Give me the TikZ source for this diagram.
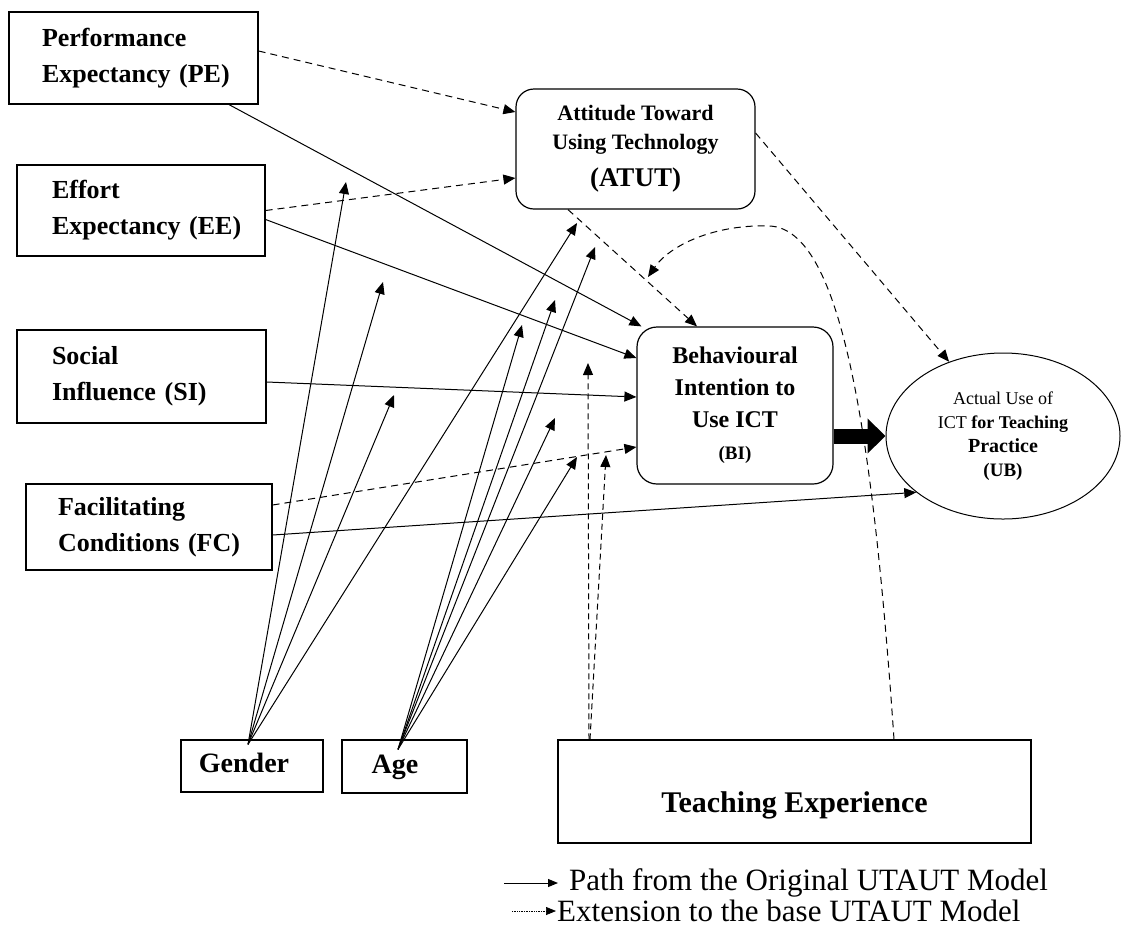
\documentclass[tikz,border=0pt]{standalone}
\usepackage{fontspec}
\setmainfont{Liberation Serif}
\usetikzlibrary{arrows.meta,shapes.geometric,calc}

\begin{document}
\begin{tikzpicture}[x=1pt,y=-1pt,
  cbox/.style={draw, line width=1.2pt, inner ysep=0pt, align=left,
               font=\fontsize{26}{36}\selectfont\bfseries},
  rbox/.style={draw, line width=1.2pt, rounded corners=18pt, inner sep=0pt, align=center},
  modbox/.style={draw, line width=1.2pt, inner sep=0pt, text height=19pt, text depth=6pt,
                 font=\fontsize{28}{34}\selectfont\bfseries},
  orig/.style={line width=1pt, -{Triangle[length=12pt,width=10pt]}},
  extn/.style={line width=1pt, dash pattern=on 7pt off 5pt,
               -{Triangle[length=12pt,width=10pt]}},
  extd/.style={line width=1pt, dash pattern=on 6pt off 4pt,
               -{Triangle[length=12pt,width=10pt]}},
  legend/.style={anchor=west, inner sep=0pt, font=\fontsize{31}{34}\selectfont}
]
\useasboundingbox (0,0) rectangle (1121,930);

% ---- constructs ----
\node[cbox, minimum width=249pt, minimum height=92pt, inner xsep=33pt, text width=183pt]
  (pe) at (133.5,58) {Performance\\Expectancy~(PE)};
\node[cbox, minimum width=248pt, minimum height=91pt, inner xsep=35pt, text width=178pt]
  (ee) at (141,210.5) {Effort\\Expectancy~(EE)};
\node[cbox, minimum width=249pt, minimum height=93pt, inner xsep=35pt, text width=179pt]
  (si) at (141.5,376.5) {Social\\Influence~(SI)};
\node[cbox, minimum width=246pt, minimum height=86pt, inner xsep=32pt, text width=182pt]
  (fc) at (149,527) {Facilitating\\Conditions~(FC)};

\node[rbox, minimum width=239pt, minimum height=120pt,
      font=\fontsize{22}{29}\selectfont\bfseries]
  (atut) at (635.5,149) {Attitude Toward\\Using Technology\\[8pt]{\fontsize{27}{30}\selectfont (ATUT)}};

\node[rbox, rounded corners=20pt, minimum width=196pt, minimum height=157pt,
      font=\fontsize{24}{32}\selectfont\bfseries]
  (bi) at (735,405.5) {Behavioural\\Intention to\\Use ICT\\{\fontsize{19}{20}\selectfont (BI)}};

\node[draw, ellipse, line width=1pt, inner sep=0pt, minimum width=234pt, minimum height=166pt,
      align=center, font=\fontsize{18}{24}\selectfont]
  (ub) at (1003,436) {Actual Use of\\ICT \textbf{for Teaching}\\{\bfseries\fontsize{20}{24}\selectfont Practice}\\{\bfseries\fontsize{19}{25}\selectfont (UB)}};

% ---- moderators ----
\node[modbox, minimum width=142pt, minimum height=52pt] (gender) at (252,766) {Gender\hspace*{16pt}};
\node[modbox, minimum width=125pt, minimum height=53pt] (age) at (404.5,766.5) {Age\hspace*{19pt}};
\node[draw, line width=1.2pt, minimum width=473pt, minimum height=103pt, inner sep=0pt,
      label={[font=\fontsize{30}{34}\selectfont\bfseries, yshift=-14pt]center:Teaching Experience}]
  (te) at (794.5,791.5) {};

% ---- free ends of the moderating arrows ----
\coordinate (g1) at (346,182);
\coordinate (g2) at (383,282);
\coordinate (g3) at (394,395);
\coordinate (g4) at (577,223);
\coordinate (a1) at (595,247);
\coordinate (a2) at (555,300);
\coordinate (a3) at (522,325);
\coordinate (a4) at (555,418);
\coordinate (a5) at (577,457);
\coordinate (t1) at (588,363);
\coordinate (t2) at (606,455);
\coordinate (t3) at (648,277);

% ---- original UTAUT paths ----
\draw[orig] ([xshift=95.5pt]pe.south) -- ([xshift=5pt]bi.north west);
\draw[orig] ([yshift=-9pt]ee.east) -- ([yshift=47.5pt]bi.west);
\draw[orig] ([yshift=-5.5pt]si.east) -- ([yshift=8.5pt]bi.west);
\draw[orig] ([yshift=-8pt]fc.east) -- (ub.213);

\foreach \t in {g1,g2,g3,g4}
  \draw[orig] ([xshift=-4pt,yshift=-5pt]gender.north) -- (\t);
\foreach \t in {a1,a2,a3,a4,a5}
  \draw[orig] ([xshift=-6.5pt,yshift=-10pt]age.north) -- (\t);

\draw[line width=15pt, -{Triangle[length=18pt,width=34pt]}] (bi.east |- ub.west) -- (ub.west);

% ---- extension paths ----
\draw[extn] ([yshift=7pt]pe.east) -- ([yshift=37pt]atut.west);
\draw[extn] (ee.east) -- ([yshift=-29pt]atut.west);
\draw[extn] ([yshift=22pt]fc.east) -- ([yshift=-41.5pt]bi.west);
\draw[extn] ([xshift=-67.5pt]atut.south) -- ([xshift=-38pt]bi.north);
\draw[extn] ([yshift=16pt]atut.east) -- (ub.126);
\draw[extd] ([xshift=-205.5pt]te.north) -- (t1);
\draw[extd] ([xshift=-204.5pt]te.north) -- (t2);
\draw[extn] ([xshift=99.5pt]te.north) .. controls (872,420) and (840,230) .. (770,226)
  .. controls (715,224) and (670,245) .. (t3);

% ---- legend ----
\node[legend] (leg1) at (569,883) {Path from the Original UTAUT Model};
\node[legend] (leg2) at (557,911) {Extension to the base UTAUT Model};
\coordinate (l1) at (504,883);
\coordinate (l2) at (512,911);
\draw[line width=1pt, -{Triangle[length=10pt,width=8pt]}] (l1) -- ([xshift=-11pt]leg1.west);
\draw[line width=0.7pt, densely dotted, -{Triangle[length=10pt,width=8pt]}] (l2) -- ([xshift=-1pt]leg2.west);
\end{tikzpicture}
\end{document}
